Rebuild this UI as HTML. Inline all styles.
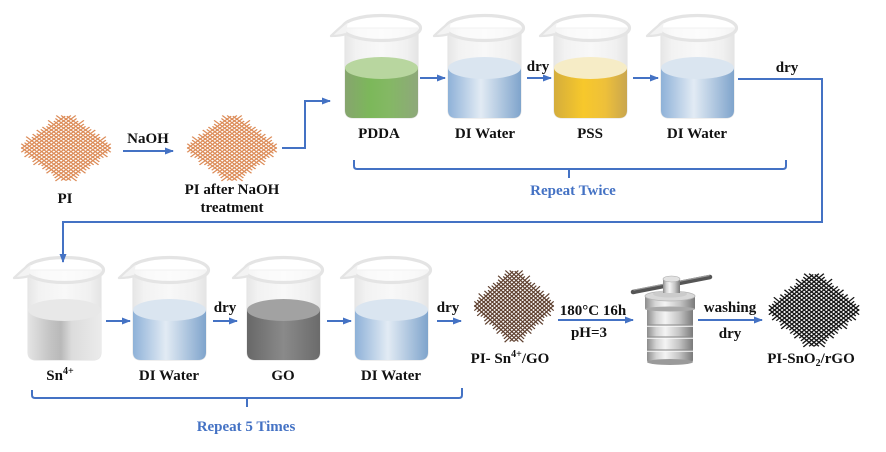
<!DOCTYPE html>
<html><head><meta charset="utf-8"><style>
html,body{margin:0;padding:0;background:#fff;}
svg{display:block;}
text{font-family:"Liberation Serif",serif;font-weight:bold;font-size:15px;fill:#111;}
.b{fill:#4472C4;}
</style></head><body>
<svg width="886" height="452" viewBox="0 0 886 452" xmlns="http://www.w3.org/2000/svg">
<defs>
<marker id="ah" markerUnits="userSpaceOnUse" markerWidth="9" markerHeight="8" refX="8" refY="4" orient="auto"><path d="M0,0.5 L9,4 L0,7.5 Z" fill="#4472C4"/></marker>
<linearGradient id="glass" x1="0" x2="1" y1="0" y2="0"><stop offset="0" stop-color="#e6e6e6"/><stop offset="0.15" stop-color="#f2f2f2"/><stop offset="0.5" stop-color="#f8f8f8"/><stop offset="0.85" stop-color="#f0f0f0"/><stop offset="1" stop-color="#e4e4e4"/></linearGradient>
<linearGradient id="gGreen" x1="0" x2="1"><stop offset="0" stop-color="#86a56e"/><stop offset="0.35" stop-color="#7cb85a"/><stop offset="0.6" stop-color="#84b864"/><stop offset="1" stop-color="#8ea87a"/></linearGradient>
<linearGradient id="gBlue" x1="0" x2="1"><stop offset="0" stop-color="#8eb1d8"/><stop offset="0.45" stop-color="#e2ebf4"/><stop offset="1" stop-color="#7fa4cc"/></linearGradient>
<linearGradient id="gYellow" x1="0" x2="1"><stop offset="0" stop-color="#d4ad3c"/><stop offset="0.4" stop-color="#f7c82b"/><stop offset="0.7" stop-color="#eec03a"/><stop offset="1" stop-color="#c9a64e"/></linearGradient>
<linearGradient id="gGray" x1="0" x2="1"><stop offset="0" stop-color="#e4e4e4"/><stop offset="0.3" stop-color="#c4c4c4"/><stop offset="0.45" stop-color="#b9b9b9"/><stop offset="0.6" stop-color="#dcdcdc"/><stop offset="1" stop-color="#ebebeb"/></linearGradient>
<linearGradient id="gDark" x1="0" x2="1"><stop offset="0" stop-color="#686868"/><stop offset="0.5" stop-color="#8a8a8a"/><stop offset="1" stop-color="#6b6b6b"/></linearGradient>
<linearGradient id="metal" x1="0" x2="1"><stop offset="0" stop-color="#8c8c8c"/><stop offset="0.2" stop-color="#d4d4d4"/><stop offset="0.4" stop-color="#f4f4f4"/><stop offset="0.7" stop-color="#c4c4c4"/><stop offset="1" stop-color="#7a7a7a"/></linearGradient>

<g id="glassB">
  <path d="M-36,0 L-36,82 Q-36,90 -28,90 L29,90 Q37,90 37,82 L37,0 Z" fill="url(#glass)" stroke="#e5e5e5" stroke-width="1.2"/>
</g>
<g id="rimB">
  <ellipse cx="0.5" cy="0" rx="39" ry="12.5" fill="rgba(255,255,255,0.55)" stroke="#e4e4e4" stroke-width="3.2"/>
  <path d="M-33,-7 Q-43,1 -50,8 Q-41,8 -35,6" fill="#f3f3f3" stroke="#e4e4e4" stroke-width="2.3" stroke-linejoin="round"/>
</g>
<path id="liqB" d="M-36,40 L-36,82 Q-36,90 -28,90 L29,90 Q37,90 37,82 L37,40 Z"/>

<g id="mesh" fill="none" stroke="currentColor" stroke-width="1.25">
<path d="M-26,-27H28M-30,-24H31M-33,-21H30M-31,-18H33M-30,-15H31M-34,-12H30M-31,-9H32M-30,-6H34M-32,-3H31M-31,0H30M-33,3H32M-30,6H31M-32,9H33M-30,12H30M-34,15H31M-31,18H32M-30,21H34M-31,24H30M-28,27H27"/>
<path d="M-27,-26V28M-24,-30V31M-21,-33V30M-18,-31V33M-15,-30V31M-12,-34V30M-9,-31V32M-6,-30V34M-3,-32V31M0,-31V30M3,-33V32M6,-30V31M9,-32V33M12,-30V30M15,-34V31M18,-31V32M21,-30V34M24,-31V30M27,-28V27"/>
</g>
</defs>

<!-- Meshes -->
<use href="#mesh" transform="translate(66,148) scale(1.15,0.85) rotate(45)" style="color:#dc8b57"/>
<use href="#mesh" transform="translate(232,148) scale(1.15,0.85) rotate(45)" style="color:#dc8b57"/>
<use href="#mesh" transform="translate(514,306) scale(1.02,0.93) rotate(45)" style="color:#5e3f2e"/>
<use href="#mesh" transform="translate(814,310) scale(1.16,0.95) rotate(45)" style="color:#151515"/>

<!-- Top row beakers -->
<g transform="translate(381,28)">
  <use href="#glassB"/>
  <use href="#liqB" fill="url(#gGreen)"/>
  <ellipse cx="0.5" cy="40" rx="36.5" ry="11" fill="#b8d69f"/>
  <use href="#rimB"/>
</g>
<g transform="translate(484,28)">
  <use href="#glassB"/>
  <use href="#liqB" fill="url(#gBlue)"/>
  <ellipse cx="0.5" cy="40" rx="36.5" ry="11" fill="#dae5f0"/>
  <use href="#rimB"/>
</g>
<g transform="translate(590,28)">
  <use href="#glassB"/>
  <use href="#liqB" fill="url(#gYellow)"/>
  <ellipse cx="0.5" cy="40" rx="36.5" ry="11" fill="#f6ecc6"/>
  <use href="#rimB"/>
</g>
<g transform="translate(697,28)">
  <use href="#glassB"/>
  <use href="#liqB" fill="url(#gBlue)"/>
  <ellipse cx="0.5" cy="40" rx="36.5" ry="11" fill="#dae5f0"/>
  <use href="#rimB"/>
</g>

<!-- Bottom row beakers -->
<g transform="translate(64,270)">
  <use href="#glassB"/>
  <use href="#liqB" fill="url(#gGray)"/>
  <ellipse cx="0.5" cy="40" rx="36.5" ry="11" fill="#e8e8e8"/>
  <use href="#rimB"/>
</g>
<g transform="translate(169,270)">
  <use href="#glassB"/>
  <use href="#liqB" fill="url(#gBlue)"/>
  <ellipse cx="0.5" cy="40" rx="36.5" ry="11" fill="#dae5f0"/>
  <use href="#rimB"/>
</g>
<g transform="translate(283,270)">
  <use href="#glassB"/>
  <use href="#liqB" fill="url(#gDark)"/>
  <ellipse cx="0.5" cy="40" rx="36.5" ry="11" fill="#a2a2a2"/>
  <use href="#rimB"/>
</g>
<g transform="translate(391,270)">
  <use href="#glassB"/>
  <use href="#liqB" fill="url(#gBlue)"/>
  <ellipse cx="0.5" cy="40" rx="36.5" ry="11" fill="#dae5f0"/>
  <use href="#rimB"/>
</g>

<!-- Autoclave -->
<g>
  <line x1="633" y1="292" x2="710" y2="277" stroke="#555" stroke-width="4.5" stroke-linecap="round"/>
  <line x1="634" y1="290" x2="709" y2="275.5" stroke="#9a9a9a" stroke-width="1.2" stroke-linecap="round"/>
  <rect x="647" y="306" width="46" height="57" rx="3" fill="url(#metal)"/>
  <ellipse cx="670" cy="362" rx="23" ry="3" fill="#9a9a9a"/>
  <line x1="647" y1="325" x2="693" y2="325" stroke="#888" stroke-width="1"/>
  <line x1="647" y1="326.3" x2="693" y2="326.3" stroke="#fafafa" stroke-width="1"/>
  <line x1="647" y1="337" x2="693" y2="337" stroke="#888" stroke-width="1"/>
  <line x1="647" y1="338.3" x2="693" y2="338.3" stroke="#fafafa" stroke-width="1"/>
  <line x1="647" y1="350" x2="693" y2="350" stroke="#888" stroke-width="1"/>
  <line x1="647" y1="351.3" x2="693" y2="351.3" stroke="#fafafa" stroke-width="1"/>
  <rect x="645" y="296" width="50" height="13" fill="url(#metal)"/>
  <ellipse cx="670" cy="309" rx="25" ry="2.5" fill="#a8a8a8"/>
  <ellipse cx="670" cy="296" rx="25" ry="5" fill="#d8d8d8" stroke="#b5b5b5" stroke-width="0.8"/>
  <ellipse cx="670" cy="294" rx="17" ry="3.5" fill="#cbcbcb"/>
  <rect x="663" y="279" width="17" height="14" fill="url(#metal)"/>
  <ellipse cx="671.5" cy="279" rx="8.5" ry="3" fill="#e2e2e2" stroke="#aaa" stroke-width="0.6"/>
</g>

<!-- Connectors -->
<g fill="none" stroke="#4472C4" stroke-width="2">
  <path d="M123,151 H173" marker-end="url(#ah)"/>
  <path d="M282,148 H305 V101 H330" marker-end="url(#ah)"/>
  <path d="M420,78 H445" marker-end="url(#ah)"/>
  <path d="M527,78 H551" marker-end="url(#ah)"/>
  <path d="M633,78 H658" marker-end="url(#ah)"/>
  <path d="M738,79 H822 V222 H63 V262" marker-end="url(#ah)"/>
  <path d="M106,321 H130" marker-end="url(#ah)"/>
  <path d="M213,321 H237" marker-end="url(#ah)"/>
  <path d="M327,321 H351" marker-end="url(#ah)"/>
  <path d="M437,321 H461" marker-end="url(#ah)"/>
  <path d="M558,320 H633" marker-end="url(#ah)"/>
  <path d="M698,320 H762" marker-end="url(#ah)"/>
  <!-- brackets -->
  <path d="M354,160 V166 Q354,169 357,169 H783 Q786,169 786,166 V160"/>
  <path d="M569,169 V178"/>
  <path d="M32,390 V395 Q32,398 35,398 H459 Q462,398 462,395 V388"/>
  <path d="M247,398 V407"/>
</g>

<!-- Labels -->
<g text-anchor="middle">
  <text x="65" y="203">PI</text>
  <text x="148" y="143">NaOH</text>
  <text x="232" y="194">PI after NaOH</text>
  <text x="232" y="212">treatment</text>
  <text x="379" y="138">PDDA</text>
  <text x="485" y="138">DI Water</text>
  <text x="590" y="138">PSS</text>
  <text x="697" y="138">DI Water</text>
  <text x="538" y="71">dry</text>
  <text x="787" y="72">dry</text>
  <text x="573" y="195" class="b">Repeat Twice</text>

  <text x="60" y="380">Sn<tspan dy="-6" font-size="10">4+</tspan></text>
  <text x="169" y="380">DI Water</text>
  <text x="283" y="380">GO</text>
  <text x="391" y="380">DI Water</text>
  <text x="225" y="312">dry</text>
  <text x="448" y="312">dry</text>
  <text x="246" y="431" class="b">Repeat 5 Times</text>

  <text x="510" y="363">PI- Sn<tspan dy="-6" font-size="10">4+</tspan><tspan dy="6">/GO</tspan></text>
  <text x="593" y="315">180°C 16h</text>
  <text x="589" y="337">pH=3</text>
  <text x="730" y="312">washing</text>
  <text x="730" y="338">dry</text>
  <text x="811" y="363">PI-SnO<tspan dy="3" font-size="10">2</tspan><tspan dy="-3">/rGO</tspan></text>
</g>
</svg>
</body></html>
